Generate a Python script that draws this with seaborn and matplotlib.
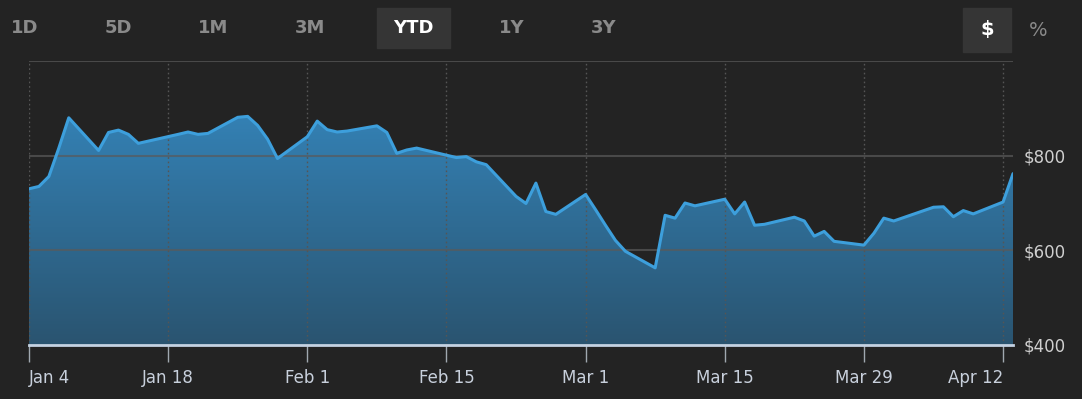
import numpy as np
import pandas as pd
import seaborn as sns
import matplotlib.pyplot as plt
import matplotlib.dates as mdates
from matplotlib.patches import Rectangle


# YTD closing prices
dates = ["2021-01-04", "2021-01-05", "2021-01-06", "2021-01-07", "2021-01-08",
         "2021-01-11", "2021-01-12", "2021-01-13", "2021-01-14", "2021-01-15",
         "2021-01-19", "2021-01-20", "2021-01-21", "2021-01-22", "2021-01-25",
         "2021-01-26", "2021-01-27", "2021-01-28", "2021-01-29", "2021-02-01",
         "2021-02-02", "2021-02-03", "2021-02-04", "2021-02-05", "2021-02-08",
         "2021-02-09", "2021-02-10", "2021-02-11", "2021-02-12", "2021-02-16",
         "2021-02-17", "2021-02-18", "2021-02-19", "2021-02-22", "2021-02-23",
         "2021-02-24", "2021-02-25", "2021-02-26", "2021-03-01", "2021-03-02",
         "2021-03-03", "2021-03-04", "2021-03-05", "2021-03-08", "2021-03-09",
         "2021-03-10", "2021-03-11", "2021-03-12", "2021-03-15", "2021-03-16",
         "2021-03-17", "2021-03-18", "2021-03-19", "2021-03-22", "2021-03-23",
         "2021-03-24", "2021-03-25", "2021-03-26", "2021-03-29", "2021-03-30",
         "2021-03-31", "2021-04-01", "2021-04-05", "2021-04-06", "2021-04-07",
         "2021-04-08", "2021-04-09", "2021-04-12", "2021-04-13"]
prices = [730, 735, 756, 816, 880,
          811, 849, 854, 845, 826,
          845, 850, 845, 847, 881,
          883, 864, 835, 794, 840,
          873, 855, 850, 852, 863,
          849, 805, 812, 816, 796,
          798, 787, 781, 714, 699,
          742, 682, 676, 718, 686,
          653, 621, 598, 563, 674,
          668, 700, 694, 708, 677,
          702, 653, 655, 670, 662,
          630, 640, 619, 611, 636,
          668, 662, 691, 692, 671,
          684, 677, 702, 762]

tick_dates = ["2021-01-04", "2021-01-18", "2021-02-01", "2021-02-15",
              "2021-03-01", "2021-03-15", "2021-03-29", "2021-04-12"]
tick_labels = ["Jan 4", "Jan 18", "Feb 1", "Feb 15", "Mar 1", "Mar 15", "Mar 29", "Apr 12"]
y_ticks = [400, 600, 800, 1000]
y_labels = ["$400", "$600", "$800", ""]
ranges = ["1D", "5D", "1M", "3M", "YTD", "1Y", "3Y"]

bg = "#232323"
df = pd.DataFrame({"date": pd.to_datetime(dates), "price": prices})

sns.set_style("dark")
plt.rcParams["font.family"] = ["DejaVu Sans"]

fig = plt.figure(figsize=(10.82, 3.99), dpi=100, facecolor=bg)
ax = fig.add_axes([29 / 1082, 54 / 399, 984 / 1082, 284 / 399])
ax.set_facecolor(bg)

x0 = pd.Timestamp("2021-01-04")
x1 = pd.Timestamp("2021-04-13")
ax.set_xlim(x0, x1)
ax.set_ylim(400, 1000)

# gradient fill under the line
poly = ax.fill_between(df["date"], df["price"], 400, color="none", lw=0)
grad = np.linspace(0, 1, 256).reshape(-1, 1)
cmap = sns.blend_palette(["#2a5470", "#3482b6"], as_cmap=True)
img = ax.imshow(grad, extent=[mdates.date2num(x0), mdates.date2num(x1), 400, 900],
                origin="lower", aspect="auto", cmap=cmap, zorder=1)
img.set_clip_path(poly.get_paths()[0], transform=ax.transData)

sns.lineplot(data=df, x="date", y="price", ax=ax, color="#3d9fdc", lw=2.2, zorder=3)

# grid lines
for v in y_ticks[1:]:
    ax.axhline(v, color="#5a5a5a", lw=1.5, alpha=0.7, zorder=2)
for d in tick_dates:
    ax.axvline(pd.Timestamp(d), color="#555555", lw=1.0, ls=(0, (1.2, 2)), zorder=2)

ax.set_xticks(pd.to_datetime(tick_dates))
ax.set_xticklabels(tick_labels)
ax.set_yticks(y_ticks)
ax.set_yticklabels(y_labels)
ax.yaxis.tick_right()
ax.tick_params(axis="y", length=0, pad=8, labelsize=12, labelcolor="#cfcfcf")
ax.tick_params(axis="x", bottom=True, length=12, width=1, color="#a0a8b0", pad=5,
               labelsize=12, labelcolor="#c8d0dc", direction="out")
ax.set_xlabel("")
ax.set_ylabel("")
ax.grid(False)
for s in ["top", "left", "right"]:
    ax.spines[s].set_visible(False)
ax.spines["bottom"].set_color("#c4d2e2")
ax.spines["bottom"].set_linewidth(2)
ax.spines["bottom"].set_zorder(4)
labs = ax.get_xticklabels()
for lab in labs:
    lab.set_horizontalalignment("center")
labs[0].set_horizontalalignment("left")
labs[-1].set_horizontalalignment("right")
labs[-1].set_x(pd.Timestamp("2021-04-13"))

# range buttons on top
xs = [25, 118, 213, 310, 413, 512, 604]
for name, xp in zip(ranges, xs):
    if name == "YTD":
        fig.patches.append(Rectangle((377 / 1082, 1 - 48 / 399), 73 / 1082, 40 / 399,
                                     transform=fig.transFigure, color="#353535"))
        fig.text(xp / 1082, 1 - 28 / 399, name, color="white", fontsize=13,
                 fontweight="bold", ha="center", va="center")
    else:
        fig.text(xp / 1082, 1 - 28 / 399, name, color="#8a8a8a", fontsize=13,
                 fontweight="bold", ha="center", va="center")

fig.patches.append(Rectangle((963 / 1082, 1 - 52 / 399), 48 / 1082, 44 / 399,
                             transform=fig.transFigure, color="#353535"))
fig.text(987 / 1082, 1 - 30 / 399, "$", color="white", fontsize=14,
         fontweight="bold", ha="center", va="center")
fig.text(1038 / 1082, 1 - 30 / 399, "%", color="#8a8a8a", fontsize=14,
         ha="center", va="center")

plt.savefig("out.png", dpi=100, facecolor=bg)
plt.close()
